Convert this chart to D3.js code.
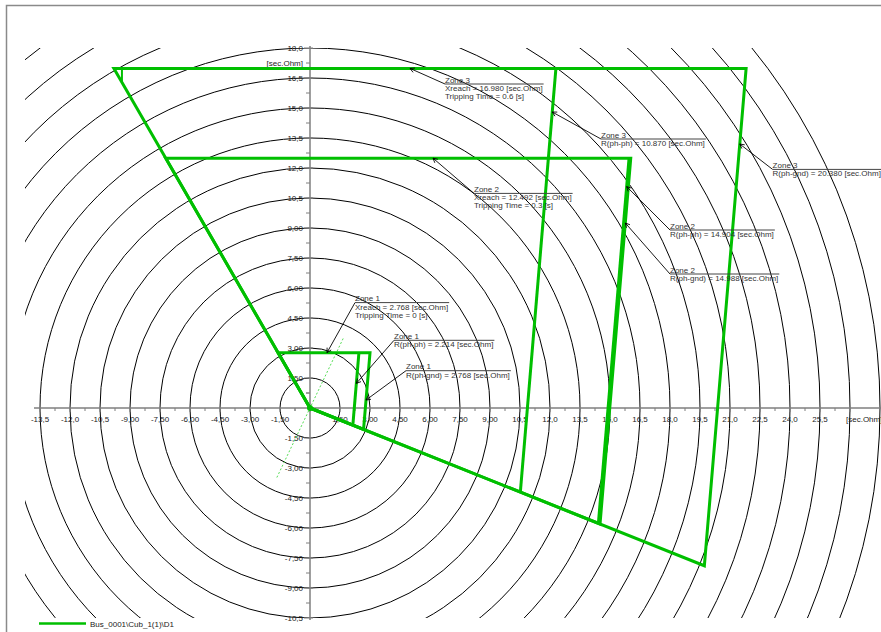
<!DOCTYPE html>
<html>
<head>
<meta charset="utf-8">
<script src="https://cdn.jsdelivr.net/npm/d3@7"></script>
<style>
body { margin: 0; background: #fff; }
text { font-family: "Liberation Sans", Arial, sans-serif; font-size: 8px; }
</style>
</head>
<body>
<svg id="chart" width="881" height="632"></svg>
<script>
// zone settings
var zoneNames = ["Zone 1", "Zone 2", "Zone 3"];
var xReach = [2.768, 12.492, 16.980];
var rPhPh = [2.214, 14.904, 10.870];
var rPhGnd = [2.768, 14.988, 20.380];
var tripTime = ["0", "0.3", "0.6"];

// characteristic angles (deg)
var leftAngle = 120;
var rightAngle = 85.2;
var bottomAngle = -21.8;
var lineAngle = 64.5;
var lineLength = 3.85;

var circleRadii = [1.5, 3, 4.5, 6, 7.5, 9, 10.5, 12, 13.5, 15, 16.5, 18, 19.5, 21, 22.5, 24, 25.5, 27, 28.5];
var xTickValues = [-13.5, -12, -10.5, -9, -7.5, -6, -4.5, -3, -1.5, 1.5, 3, 4.5, 6, 7.5, 9, 10.5, 12, 13.5, 15, 16.5, 18, 19.5, 21, 22.5, 24, 25.5];
var yTickValues = [-10.5, -9, -7.5, -6, -4.5, -3, -1.5, 1.5, 3, 4.5, 6, 7.5, 9, 10.5, 12, 13.5, 15, 16.5, 18];
var unitLabel = "[sec.Ohm]";
var legendName = "Bus_0001\\Cub_1(1)\\D1";

// which labels point where: kind, zone, point on the line, label corner
var notes = [
  { zone: 0, kind: "x",  at: 0.85,  lx: 2.25,  ly: 5.27 },
  { zone: 0, kind: "pp", at: 1.23,  lx: 4.2,   ly: 3.385 },
  { zone: 0, kind: "pg", at: 0.4,   lx: 4.8,   ly: 1.865 },
  { zone: 1, kind: "x",  at: 6.15,  lx: 8.2,   ly: 10.73 },
  { zone: 1, kind: "pp", at: 11.07, lx: 18,    ly: 8.9 },
  { zone: 1, kind: "pg", at: 9.25,  lx: 18,    ly: 6.7 },
  { zone: 2, kind: "x",  at: 5.0,   lx: 6.75,  ly: 16.2 },
  { zone: 2, kind: "pp", at: 14.8,  lx: 14.55, ly: 13.45 },
  { zone: 2, kind: "pg", at: 13.2,  lx: 23.13, ly: 11.93 }
];

var green = "#00bf00";
var svg = d3.select("#chart");

// 20 px per ohm on both axes
var x = d3.scaleLinear().domain([-13.5, 25.5]).range([40, 820]);
var y = d3.scaleLinear().domain([-10.5, 18]).range([618, 48]);

var fmt = d3.formatLocale({ decimal: ",", thousands: ".", grouping: [3], currency: ["", ""], minus: "-" }).format(".3r");

var rad = Math.PI / 180;
var kLeft = 1 / Math.tan(leftAngle * rad);
var kRight = 1 / Math.tan(rightAngle * rad);
var mBottom = Math.tan(bottomAngle * rad);

// frame
svg.append("rect")
  .attr("x", 6.5).attr("y", 5.5)
  .attr("width", 900).attr("height", 700)
  .attr("fill", "none").attr("stroke", "#8a8a8a").attr("stroke-width", 1.5);

svg.append("clipPath").attr("id", "plotclip")
  .append("rect")
  .attr("x", x(-14.25)).attr("y", y(18))
  .attr("width", x(29.5) - x(-14.25)).attr("height", y(-10.5) - y(18));

// impedance circles
svg.append("g").attr("clip-path", "url(#plotclip)")
  .selectAll("circle")
  .data(circleRadii)
  .enter()
  .append("circle")
  .attr("cx", x(0)).attr("cy", y(0))
  .attr("r", d => x(d) - x(0))
  .attr("fill", "none").attr("stroke", "#000").attr("stroke-width", 1);

// axes
var axisCol = "#7f7f7f";
var ax = svg.append("g");
ax.append("line")
  .attr("x1", x(-13.8)).attr("x2", x(29))
  .attr("y1", y(0)).attr("y2", y(0))
  .attr("stroke", axisCol).attr("stroke-width", 1.5);
ax.append("line")
  .attr("x1", x(0)).attr("x2", x(0))
  .attr("y1", y(18.1)).attr("y2", y(-10.6))
  .attr("stroke", axisCol).attr("stroke-width", 1.5);

var xMinor = xTickValues.map(d => d + 0.75).concat([-0.75]);
ax.selectAll(".xmaj").data(xTickValues.concat([0, 27])).enter().append("line")
  .attr("x1", d => x(d)).attr("x2", d => x(d))
  .attr("y1", y(0)).attr("y2", y(0) + 4)
  .attr("stroke", axisCol).attr("stroke-width", 1);
ax.selectAll(".xmin").data(xMinor).enter().append("line")
  .attr("x1", d => x(d)).attr("x2", d => x(d))
  .attr("y1", y(0)).attr("y2", y(0) + 3)
  .attr("stroke", axisCol).attr("stroke-width", 1);
ax.selectAll(".xlab").data(xTickValues).enter().append("text")
  .attr("x", d => x(d)).attr("y", y(0) + 14)
  .attr("text-anchor", "middle").attr("fill", "#222")
  .text(d => fmt(d));
ax.append("text")
  .attr("x", x(26.8)).attr("y", y(0) + 14)
  .attr("fill", "#222").text(unitLabel);

var yMinor = yTickValues.map(d => d - 0.75).concat([0.75]);
ax.selectAll(".ymaj").data(yTickValues).enter().append("line")
  .attr("x1", x(0) - 6).attr("x2", x(0) + 3)
  .attr("y1", d => y(d)).attr("y2", d => y(d))
  .attr("stroke", axisCol).attr("stroke-width", 1);
ax.selectAll(".ymin").data(yMinor).enter().append("line")
  .attr("x1", x(0) - 4).attr("x2", x(0))
  .attr("y1", d => y(d)).attr("y2", d => y(d))
  .attr("stroke", axisCol).attr("stroke-width", 1);
ax.selectAll(".ylab").data(yTickValues).enter().append("text")
  .attr("x", x(0) - 7).attr("y", d => y(d) + 3)
  .attr("text-anchor", "end").attr("fill", "#222")
  .text(d => fmt(d));
ax.append("text")
  .attr("x", x(0) - 7).attr("y", y(17.25) + 3)
  .attr("text-anchor", "end").attr("fill", "#222").text(unitLabel);

// line angle (dashed)
svg.append("line")
  .attr("x1", x(-lineLength * Math.cos(lineAngle * rad)))
  .attr("y1", y(-lineLength * Math.sin(lineAngle * rad)))
  .attr("x2", x(lineLength * Math.cos(lineAngle * rad)))
  .attr("y2", y(lineLength * Math.sin(lineAngle * rad)))
  .attr("stroke", "#55dd55").attr("stroke-width", 1).attr("stroke-dasharray", "2,2");

// quadrilateral zones
function corner(r0) {
  var r = r0 / (1 - mBottom * kRight);
  return [r, mBottom * r];
}
var line = d3.line().x(d => x(d[0])).y(d => y(d[1]));
var zg = svg.append("g").attr("fill", "none").attr("stroke", green).attr("stroke-width", 3);

zoneNames.forEach(function (name, i) {
  var X = xReach[i];
  var pg = [[0, 0], [X * kLeft, X], [rPhGnd[i] + X * kRight, X], corner(rPhGnd[i]), [0, 0]];
  zg.append("path").attr("d", line(pg));
  zg.append("path").attr("d", line([[rPhPh[i] + X * kRight, X], corner(rPhPh[i])]));
  if (i == zoneNames.length - 1) {
    var nr = X * kLeft + 0.4;
    zg.append("path").attr("d", line([[nr, X], [nr, nr / kLeft]])).attr("stroke-width", 2);
  }
});
svg.append("circle").attr("cx", x(0)).attr("cy", y(0)).attr("r", 3).attr("fill", green);

// labels with leader arrows
var ng = svg.append("g");
notes.forEach(function (n) {
  var i = n.zone, X = xReach[i], t, lines;
  if (n.kind == "x") {
    t = [n.at, X];
    lines = [zoneNames[i], "Xreach = " + X.toFixed(3) + " [sec.Ohm]", "Tripping Time = " + tripTime[i] + " [s]"];
  } else {
    var r0 = n.kind == "pp" ? rPhPh[i] : rPhGnd[i];
    t = [r0 + n.at * kRight, n.at];
    lines = [zoneNames[i], (n.kind == "pp" ? "R(ph-ph) = " : "R(ph-gnd) = ") + r0.toFixed(3) + " [sec.Ohm]"];
  }
  var tx = x(t[0]), ty = y(t[1]);
  var lx = x(n.lx), ly = y(n.ly);

  ng.append("line")
    .attr("x1", tx).attr("y1", ty).attr("x2", lx).attr("y2", ly)
    .attr("stroke", "#000").attr("stroke-width", 0.9);

  // open arrow head at target
  var dx = lx - tx, dy = ly - ty, len = Math.sqrt(dx * dx + dy * dy);
  dx /= len; dy /= len;
  [28, -28].forEach(function (a) {
    var c = Math.cos(a * rad), s = Math.sin(a * rad);
    ng.append("line")
      .attr("x1", tx).attr("y1", ty)
      .attr("x2", tx + 5 * (dx * c - dy * s)).attr("y2", ty + 5 * (dx * s + dy * c))
      .attr("stroke", "#000").attr("stroke-width", 0.9);
  });

  var w = 0;
  lines.forEach(function (s, k) {
    var el = ng.append("text")
      .attr("x", lx).attr("y", k == 0 ? ly - 1.5 : ly + 7 + (k - 1) * 8)
      .attr("fill", "#333").text(s);
    w = Math.max(w, el.node().getComputedTextLength());
  });
  ng.append("line")
    .attr("x1", lx).attr("x2", lx + w + 1).attr("y1", ly).attr("y2", ly)
    .attr("stroke", "#444").attr("stroke-width", 1);
});

// legend
svg.append("line")
  .attr("x1", 39).attr("x2", 86).attr("y1", 623.5).attr("y2", 623.5)
  .attr("stroke", green).attr("stroke-width", 2.5);
svg.append("text")
  .attr("x", 90).attr("y", 626.5).attr("fill", "#222").text(legendName);
</script>
</body>
</html>
